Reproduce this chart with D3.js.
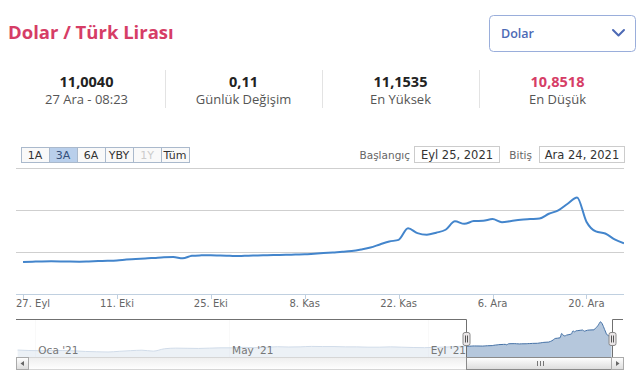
<!DOCTYPE html>
<html><head><meta charset="utf-8">
<script src="https://cdn.jsdelivr.net/npm/d3@7/dist/d3.min.js"></script>
<style>body{margin:0;background:#fff;} svg{display:block}</style>
</head><body><svg id="c" width="640" height="385"></svg>
<script>
// ---------- DATA ----------
const tradingDays = [
 "2021-09-27","2021-09-28","2021-09-29","2021-09-30","2021-10-01",
 "2021-10-04","2021-10-05","2021-10-06","2021-10-07","2021-10-08",
 "2021-10-11","2021-10-12","2021-10-13","2021-10-14","2021-10-15",
 "2021-10-18","2021-10-19","2021-10-20","2021-10-21","2021-10-22",
 "2021-10-25","2021-10-26","2021-10-27","2021-10-28","2021-10-29",
 "2021-11-01","2021-11-02","2021-11-03","2021-11-04","2021-11-05",
 "2021-11-08","2021-11-09","2021-11-10","2021-11-11","2021-11-12",
 "2021-11-15","2021-11-16","2021-11-17","2021-11-18","2021-11-19",
 "2021-11-22","2021-11-23","2021-11-24","2021-11-25","2021-11-26",
 "2021-11-29","2021-11-30","2021-12-01","2021-12-02","2021-12-03",
 "2021-12-06","2021-12-07","2021-12-08","2021-12-09","2021-12-10",
 "2021-12-13","2021-12-14","2021-12-15","2021-12-16","2021-12-17",
 "2021-12-20","2021-12-21","2021-12-22","2021-12-23","2021-12-24"];
const usdTry = [
 8.82, 8.85, 8.88, 8.89, 8.88,
 8.86, 8.85, 8.88, 8.92, 8.95,
 9.00, 9.10, 9.18, 9.22, 9.30,
 9.38, 9.40, 9.25, 9.55, 9.60,
 9.62, 9.58, 9.55, 9.52, 9.56,
 9.58, 9.62, 9.64, 9.66, 9.70,
 9.73, 9.80, 9.87, 9.95, 10.02,
 10.12, 10.30, 10.53, 10.90, 11.25,
 11.45, 12.82, 12.25, 12.06, 12.30,
 12.65, 13.65, 13.35, 13.68, 13.72,
 13.92, 13.55, 13.70, 13.85, 13.92,
 13.98, 14.55, 14.96, 15.75, 16.50,
 13.61, 12.45, 12.20, 11.50, 11.04];
const xTickDays = ["2021-09-27","2021-10-11","2021-10-25","2021-11-08","2021-11-22","2021-12-06","2021-12-20"];
const xTickLabels = ["27. Eyl","11. Eki","25. Eki","8. Kas","22. Kas","6. Ara","20. Ara"];
const yGridValues = [10, 15, 20];

const navDays = [
 "2020-12-21","2020-12-28","2021-01-04","2021-01-11","2021-01-18","2021-01-25",
 "2021-02-01","2021-02-08","2021-02-15","2021-02-22","2021-03-01","2021-03-08",
 "2021-03-15","2021-03-22","2021-03-29","2021-04-05","2021-04-12","2021-04-19",
 "2021-04-26","2021-05-03","2021-05-10","2021-05-17","2021-05-24","2021-05-31",
 "2021-06-07","2021-06-14","2021-06-21","2021-06-28","2021-07-05","2021-07-12",
 "2021-07-19","2021-07-26","2021-08-02","2021-08-09","2021-08-16","2021-08-23",
 "2021-08-30","2021-09-06","2021-09-13","2021-09-20"];
const navValues = [
 7.60, 7.45, 7.38, 7.45, 7.45, 7.35,
 7.15, 7.05, 6.98, 7.20, 7.40, 7.55,
 7.25, 8.00, 8.20, 8.15, 8.10, 8.20,
 8.30, 8.30, 8.45, 8.35, 8.45, 8.65,
 8.55, 8.60, 8.75, 8.70, 8.70, 8.60,
 8.60, 8.50, 8.50, 8.60, 8.50, 8.40,
 8.35, 8.45, 8.55, 8.75];
const navTickMonths = ["2021-01-01","2021-05-01","2021-09-01"];
const navTickLabels = ["Oca '21","May '21","Eyl '21"];
const selectedRange = ["2021-09-25","2021-12-24"];
const selectedRangeText = ["Eyl 25, 2021","Ara 24, 2021"];

const titleText = "Dolar / Türk Lirası";
const currencyOption = "Dolar";
const statValues = ["11,0040","0,11","11,1535","10,8518"];
const statLabels = ["27 Ara - 08:23","Günlük Değişim","En Yüksek","En Düşük"];
const rangeButtons = ["1A","3A","6A","YBY","1Y","Tüm"];

// ---------- DRAW ----------
const parse = d3.timeParse("%Y-%m-%d");
const svg = d3.select("#c");
const HC = "'DejaVu Sans', Verdana, sans-serif";
const OS = "'Open Sans', sans-serif";
const red = "#d63d66";

// header
svg.append("text").attr("x", 8).attr("y", 39).text(titleText)
  .attr("font-family", OS).attr("font-weight", 700).attr("font-size", 18.5).attr("fill", red);

svg.append("rect").attr("x", 489.5).attr("y", 15.5).attr("width", 146).attr("height", 36).attr("rx", 4)
  .attr("fill", "#fff").attr("stroke", "#9aaedb");
svg.append("text").attr("x", 501).attr("y", 38).text(currencyOption)
  .attr("font-family", OS).attr("font-weight", 600).attr("font-size", 12.5).attr("fill", "#4d6ab5");
svg.append("path").attr("d", "M613,30 L618.5,35.5 L624,30").attr("fill", "none")
  .attr("stroke", "#4d6ab5").attr("stroke-width", 2).attr("stroke-linecap", "round").attr("stroke-linejoin", "round");

// stats
const colX = d3.scaleBand().domain(d3.range(statValues.length)).range([8, 636]);
statValues.forEach((v, i) => {
  const cx = colX(i) + colX.bandwidth() / 2;
  svg.append("text").attr("x", cx).attr("y", 87).attr("text-anchor", "middle").text(v)
    .attr("font-family", OS).attr("font-weight", 700).attr("font-size", 14.5)
    .attr("fill", i === 3 ? red : "#222");
  svg.append("text").attr("x", cx).attr("y", 104).attr("text-anchor", "middle").text(statLabels[i])
    .attr("font-family", OS).attr("font-size", 13).attr("fill", "#555");
  if (i > 0) svg.append("line").attr("x1", colX(i) + 0.5).attr("x2", colX(i) + 0.5)
    .attr("y1", 70).attr("y2", 108).attr("stroke", "#e3e3e3");
});

// range selector buttons
const btnX = d3.scaleBand().domain(rangeButtons).range([21, 189]);
rangeButtons.forEach((b, i) => {
  const g = svg.append("g");
  g.append("rect").attr("x", btnX(b) + 0.5).attr("y", 147.5).attr("width", btnX.bandwidth()).attr("height", 15)
    .attr("fill", b === "3A" ? "#b9cfeb" : "#f9f9f9").attr("stroke", "#aab9cc");
  g.append("text").attr("x", btnX(b) + btnX.bandwidth() / 2).attr("y", 159).attr("text-anchor", "middle")
    .text(b).attr("font-family", HC).attr("font-size", 11)
    .attr("fill", b === "1Y" ? "#cccccc" : (b === "3A" ? "#34507a" : "#333"));
});

// date inputs
svg.append("text").attr("x", 410).attr("y", 159).attr("text-anchor", "end").text("Başlangıç")
  .attr("font-family", HC).attr("font-size", 10.5).attr("fill", "#666");
svg.append("rect").attr("x", 414.5).attr("y", 146.5).attr("width", 85).attr("height", 16)
  .attr("fill", "#fff").attr("stroke", "#cccccc");
svg.append("text").attr("x", 457).attr("y", 159).attr("text-anchor", "middle").text(selectedRangeText[0])
  .attr("font-family", HC).attr("font-size", 11.5).attr("fill", "#333");
svg.append("text").attr("x", 532).attr("y", 159).attr("text-anchor", "end").text("Bitiş")
  .attr("font-family", HC).attr("font-size", 10.5).attr("fill", "#666");
svg.append("rect").attr("x", 539.5).attr("y", 146.5).attr("width", 85).attr("height", 16)
  .attr("fill", "#fff").attr("stroke", "#cccccc");
svg.append("text").attr("x", 582).attr("y", 159).attr("text-anchor", "middle").text(selectedRangeText[1])
  .attr("font-family", HC).attr("font-size", 11.5).attr("fill", "#333");

// main plot
const plotL = 16, plotR = 624, plotT = 168, plotB = 294;
const x = d3.scaleLinear().domain([-0.75, tradingDays.length - 1]).range([plotL, plotR]);
const y = d3.scaleLinear().domain([5, 20]).range([plotB, plotT]);

svg.append("g").selectAll("line").data(yGridValues).join("line")
  .attr("x1", plotL).attr("x2", plotR)
  .attr("y1", d => Math.round(y(d)) + 0.5).attr("y2", d => Math.round(y(d)) + 0.5)
  .attr("stroke", "#cfcfcf");
svg.append("line").attr("x1", plotL).attr("x2", plotR).attr("y1", plotB + 0.5).attr("y2", plotB + 0.5)
  .attr("stroke", "#c0d0e0");

const tickIdx = xTickDays.map(d => tradingDays.indexOf(d));
tickIdx.forEach((ti, k) => {
  const px = Math.round(x(ti)) + 0.5;
  svg.append("line").attr("x1", px).attr("x2", px).attr("y1", plotB).attr("y2", plotB + 5).attr("stroke", "#c0d0e0");
  const t = svg.append("text").attr("y", 307).text(xTickLabels[k])
    .attr("font-family", HC).attr("font-size", 10).attr("fill", "#666");
  const w = t.node().getComputedTextLength();
  let lx = x(ti) - w / 2;
  if (lx < plotL) lx = plotL;
  t.attr("x", lx);
});

svg.append("clipPath").attr("id", "pc").append("rect")
  .attr("x", plotL).attr("y", plotT - 5).attr("width", plotR - plotL).attr("height", plotB - plotT + 5);
const line = d3.line().x((d, i) => x(i)).y(d => y(d)).curve(d3.curveMonotoneX);
svg.append("path").datum(usdTry).attr("d", line).attr("clip-path", "url(#pc)")
  .attr("fill", "none").attr("stroke", "#4385cc").attr("stroke-width", 2).attr("stroke-linejoin", "round");

// navigator
const navT = 319, navB = 357, navL = 16, navR = 623;
const nx = d3.scaleTime().domain([parse("2020-12-20"), parse("2021-12-31")]).range([navL, navR]);
const ny = d3.scaleLinear().domain([5.4, 17.4]).range([navB, navT]);
const navSeries = navDays.map((d, i) => ({ t: parse(d), v: navValues[i] }))
  .concat(tradingDays.map((d, i) => ({ t: parse(d), v: usdTry[i] })));

svg.append("g").selectAll("line").data(navTickMonths).join("line")
  .attr("x1", d => Math.round(nx(parse(d))) + 0.5).attr("x2", d => Math.round(nx(parse(d))) + 0.5)
  .attr("y1", navT).attr("y2", navB).attr("stroke", "#e6e6e6");

const area = d3.area().x(d => nx(d.t)).y0(navB).y1(d => ny(d.v)).curve(d3.curveMonotoneX);
svg.append("path").datum(navSeries).attr("d", area).attr("fill", "#4572a7").attr("fill-opacity", 0.4);
svg.append("path").datum(navSeries).attr("d", area.lineY1()).attr("fill", "none")
  .attr("stroke", "#4572a7").attr("stroke-width", 1);

const s0 = nx(parse(selectedRange[0])), s1 = nx(parse(selectedRange[1]));
svg.append("rect").attr("x", navL).attr("y", navT).attr("width", s0 - navL).attr("height", navB - navT)
  .attr("fill", "#fff").attr("fill-opacity", 0.75);
svg.append("rect").attr("x", s1).attr("y", navT).attr("width", navR - s1).attr("height", navB - navT)
  .attr("fill", "#fff").attr("fill-opacity", 0.75);

navTickMonths.forEach((d, k) => {
  svg.append("text").attr("x", nx(parse(d)) + 3).attr("y", 354).text(navTickLabels[k])
    .attr("font-family", HC).attr("font-size", 10.5).attr("fill", "#777");
});

const r0 = Math.round(s0) + 0.5, r1 = Math.round(s1) + 0.5;
svg.append("path").attr("d", `M${navL},${navT + 0.5} H${r0} V${navB} M${r1},${navB} V${navT + 0.5} H${navR}`)
  .attr("fill", "none").attr("stroke", "#707070").attr("stroke-width", 1);

// scrollbar
const defs = svg.append("defs");
const gr = defs.append("linearGradient").attr("id", "btn").attr("x1", 0).attr("y1", 0).attr("x2", 0).attr("y2", 1);
gr.append("stop").attr("offset", 0).attr("stop-color", "#ffffff");
gr.append("stop").attr("offset", 1).attr("stop-color", "#dcdcdc");
const gt = defs.append("linearGradient").attr("id", "trk").attr("x1", 0).attr("y1", 0).attr("x2", 0).attr("y2", 1);
gt.append("stop").attr("offset", 0).attr("stop-color", "#eeeeee");
gt.append("stop").attr("offset", 1).attr("stop-color", "#ffffff");

svg.append("rect").attr("x", navL + 0.5).attr("y", navB + 0.5).attr("width", navR - navL).attr("height", 12)
  .attr("fill", "url(#trk)").attr("stroke", "#d6d6d6");
svg.append("rect").attr("x", r0).attr("y", navB + 0.5).attr("width", r1 - r0).attr("height", 12)
  .attr("fill", "url(#btn)").attr("stroke", "#8a8a8a");
const gc = (r0 + r1) / 2;
[-3, 0, 3].forEach(o => svg.append("line").attr("x1", Math.round(gc + o) + 0.5).attr("x2", Math.round(gc + o) + 0.5)
  .attr("y1", navB + 4).attr("y2", navB + 9).attr("stroke", "#777"));
[[navL, -1], [navR - 12, 1]].forEach(([bx, dir]) => {
  svg.append("rect").attr("x", bx + 0.5).attr("y", navB + 0.5).attr("width", 12).attr("height", 12)
    .attr("fill", "url(#btn)").attr("stroke", "#aaaaaa");
  const cx = bx + 6.5, cy = navB + 6.5;
  svg.append("path").attr("d", dir < 0
      ? `M${cx - 2},${cy} L${cx + 1.5},${cy - 2.5} L${cx + 1.5},${cy + 2.5} Z`
      : `M${cx + 2},${cy} L${cx - 1.5},${cy - 2.5} L${cx - 1.5},${cy + 2.5} Z`)
    .attr("fill", "#666");
});

// handles
[r0, r1].forEach(hx => {
  svg.append("rect").attr("x", hx - 3.5).attr("y", 332.5).attr("width", 7).attr("height", 13).attr("rx", 2)
    .attr("fill", "#ebe7e8").attr("stroke", "#8a8a8a");
  [-1, 1].forEach(o => svg.append("line").attr("x1", hx + o).attr("x2", hx + o)
    .attr("y1", 335.5).attr("y2", 342.5).attr("stroke", "#555"));
});
</script></body></html>
